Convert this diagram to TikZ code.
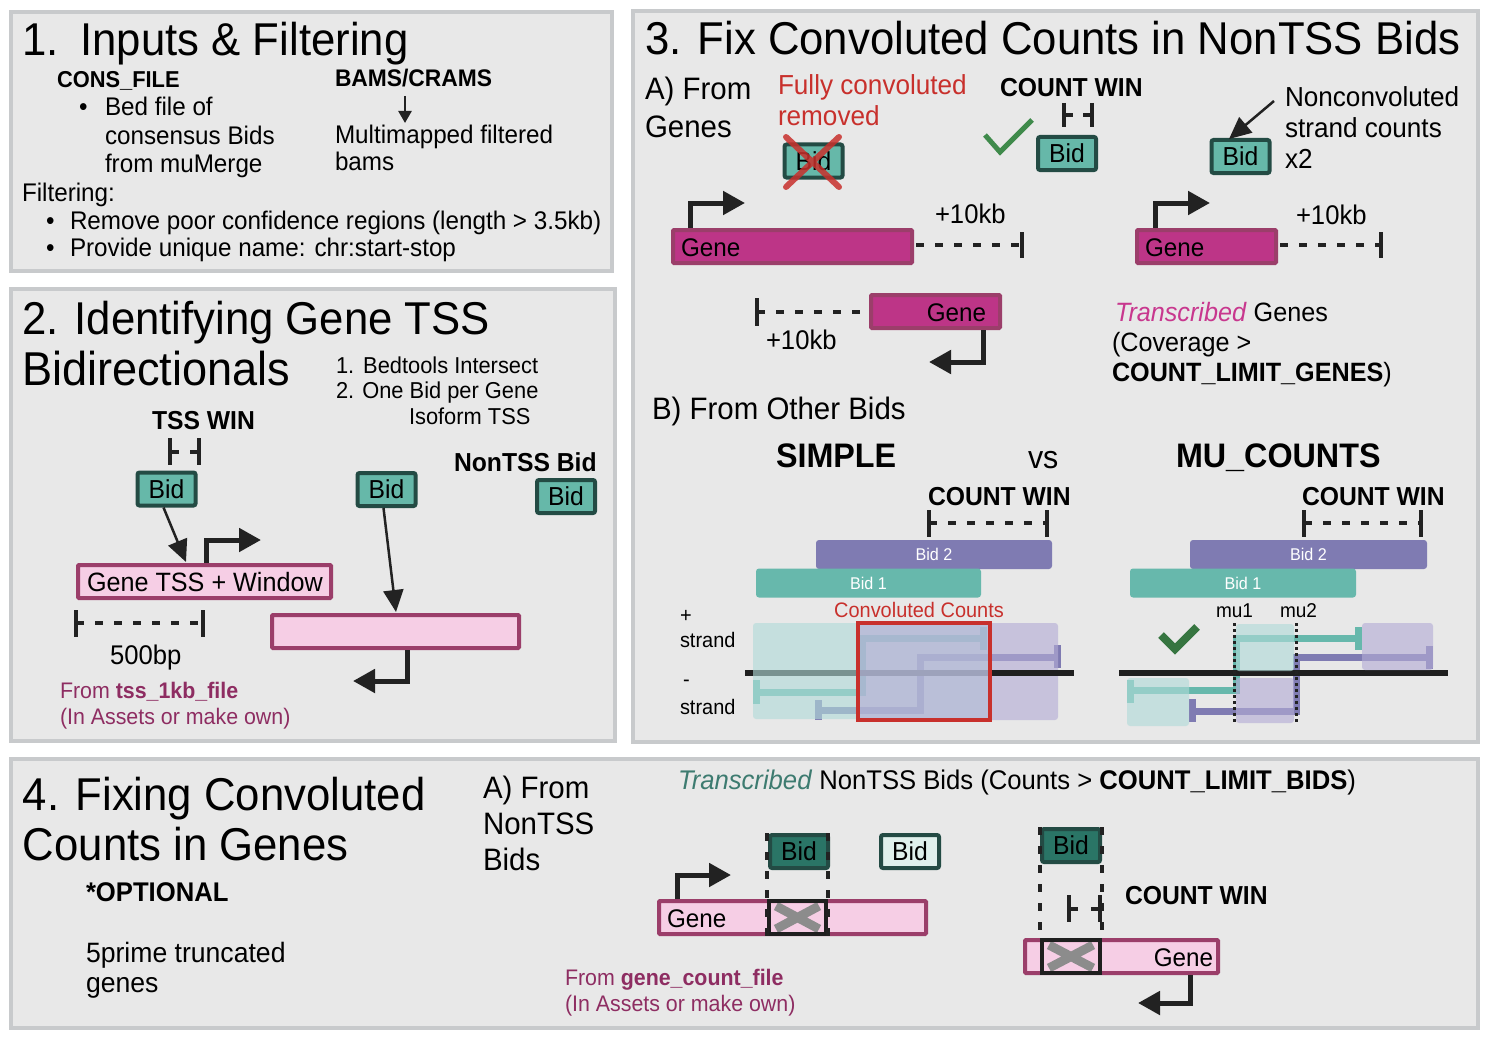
\documentclass[tikz,border=0pt]{standalone}
\usepackage{fontspec}
\setmainfont{Liberation Sans}[FakeStretch=0.95]
\usetikzlibrary{arrows.meta}
\definecolor{panelfill}{HTML}{E8E8E8}
\definecolor{panelline}{HTML}{C8CACC}
\definecolor{bidteal}{HTML}{66B8A9}
\definecolor{biddark}{HTML}{234B44}
\definecolor{bidfilldark}{HTML}{2A7566}
\definecolor{bidlight}{HTML}{DFF0EC}
\definecolor{genepink}{HTML}{F6CEE5}
\definecolor{geneline}{HTML}{9B3E6A}
\definecolor{genemag}{HTML}{BD3587}
\definecolor{bidpurple}{HTML}{7F7BB2}
\definecolor{bidone}{HTML}{67B8AC}
\definecolor{txtmag}{HTML}{8E2D62}
\definecolor{txtred}{HTML}{C8302C}
\definecolor{transmag}{HTML}{C8378E}
\definecolor{transteal}{HTML}{3D7B70}
\definecolor{checkgreen}{HTML}{3F8A4B}
\definecolor{arrowblack}{HTML}{222222}
\definecolor{regteal}{RGB}{177,219,216}
\definecolor{regpurple}{RGB}{180,172,213}
\definecolor{xgray}{HTML}{8C8C8C}
\newcommand\fsz[1]{\fontsize{#1}{#1}\selectfont}
\newcommand\winbr[4]{\draw[brk] (#1,#3)--(#1,#4) (#2,#3)--(#2,#4) (#1,{(#3+#4)/2})--({#1+9},{(#3+#4)/2}) ({#2-9},{(#3+#4)/2})--(#2,{(#3+#4)/2});}
\begin{document}
\begin{tikzpicture}[x=1pt,y=-1pt,
  txt/.style={anchor=base west, inner sep=0pt, outer sep=0pt, text=black},
  ttl/.style={txt, font=\fsz{46}},
  body/.style={txt, font=\fsz{25.5}},
  stp/.style={txt, font=\fsz{23}},
  subh/.style={txt, font=\fsz{31}},
  lblb/.style={txt, font=\bfseries\fsz{26}},
  lblsm/.style={txt, font=\bfseries\fsz{23}},
  bigb/.style={txt, font=\bfseries\fsz{34}},
  nt/.style={txt, font=\fsz{27.5}},
  nts/.style={txt, font=\fsz{26.5}},
  srcm/.style={txt, font=\fsz{22.5}, text=txtmag},
  panel/.style={draw=panelline, fill=panelfill, line width=4pt, anchor=north west, inner sep=0pt},
  bidbox/.style={draw=biddark, fill=bidteal, line width=4pt, rounded corners=2pt, inner sep=0pt, font=\fsz{26}, text=black, minimum width=58, minimum height=33},
  pinkbox/.style={draw=geneline, fill=genepink, line width=4pt, rounded corners=1pt, inner sep=0pt, minimum height=33},
  magbox/.style={draw=geneline, fill=genemag, line width=4pt, rounded corners=1pt, inner sep=0pt, minimum height=33},
  barbox/.style={rounded corners=3pt, inner sep=0pt, minimum height=29, text=white, font=\fsz{17}},
  tss/.style={draw=arrowblack, line width=5pt, -{Triangle[length=22pt,width=23pt]}},
  ptr/.style={draw=arrowblack, line width=2.5pt, -{Triangle[length=22pt,width=20pt]}},
  brk/.style={draw=arrowblack, line width=4pt},
  brkdash/.style={draw=arrowblack, line width=4pt, dash pattern=on 8pt off 11pt},
  vdash/.style={draw=arrowblack, line width=3.5pt, dash pattern=on 8pt off 11pt},
  dotv/.style={draw=arrowblack, line width=3pt, dash pattern=on 3pt off 3pt},
  tl/.style={draw=bidone, line width=7pt},
  pl/.style={draw=bidpurple, line width=7pt},
  rteal/.style={fill=regteal, fill opacity=0.62, rounded corners=3pt},
  rpurp/.style={fill=regpurple, fill opacity=0.62, rounded corners=3pt},
  axis/.style={draw=black!88, line width=6pt},
  grayx/.style={draw=xgray, line width=9pt},
  blkbox/.style={draw=black!88, line width=4pt}
]
\useasboundingbox (0,0) rectangle (1488,1038);
\fill[white] (0,0) rectangle (1488,1038);

% ---------- panels ----------
\node[panel, minimum width=601, minimum height=259] (p1) at (9,10) {};
\node[panel, minimum width=604, minimum height=452] (p2) at (9,287) {};
\node[panel, minimum width=845, minimum height=731] (p3) at (631,9) {};
\node[panel, minimum width=1467, minimum height=269] (p4) at (9,757) {};

% ---------- panel 1 ----------
\node[ttl] (t1) at (22,56) {1.\hspace{22pt}Inputs \& Filtering};
\node[lblsm] (cons) at (57,88) {CONS\_FILE};
\node[body] (cb) at (79,116) {•};
\node[body] (c1) at (105,116) {Bed file of};
\node[body] (c2) at (105,144) {consensus Bids};
\node[body] (c3) at (105,172) {from muMerge};
\node[txt, font=\bfseries\fsz{24}] (bams) at (335,87) {BAMS/CRAMS};
\coordinate (bamsA) at (405,96);
\coordinate (bamsB) at (405,123);
\draw[draw=arrowblack, line width=2.5pt, -{Triangle[length=12pt,width=13pt]}] (bamsA) -- (bamsB);
\node[body] (m1) at (335,143) {Multimapped filtered};
\node[body] (m2) at (335,171) {bams};
\node[body] (f0) at (22,201) {Filtering:};
\node[body] (fb1) at (46,229) {•};
\node[body] (f1) at (70,229) {Remove poor confidence regions (length > 3.5kb)};
\node[body] (fb2) at (46,256) {•};
\node[body] (f2) at (70,256) {Provide unique name: chr:start-stop};

% ---------- panel 2 ----------
\node[ttl] (t2a) at (22,334) {2. Identifying Gene TSS};
\node[ttl, font=\fsz{47.5}] (t2b) at (22,385) {Bidirectionals};
\node[stp] (s1) at (336,373) {1.\hspace{9pt}Bedtools Intersect};
\node[stp] (s2) at (336,398) {2. One Bid per Gene};
\node[stp] (s3) at (409,424) {Isoform TSS};
\node[lblb] (tsswin) at (152,429) {TSS WIN};
\winbr{170}{199}{438}{465}
\node[bidbox] (bidA) at (166.5,489) {Bid};
\node[bidbox] (bidB) at (386.5,489.5) {Bid};
\node[lblb] (nontss) at (454,471) {NonTSS Bid};
\node[bidbox] (bidC) at (566,496.5) {Bid};
\node[pinkbox, minimum width=253] (gtss) at (204.5,581.5) {};
\node[txt, font=\fsz{26.5}] (gtsst) at (87,591) {Gene TSS + Window};
\node[pinkbox, minimum width=247] (g2) at (395.5,631.5) {};
\coordinate (tipA) at (186,562);
\coordinate (tipB) at (396,612);
\draw[ptr] ([xshift=-3pt]bidA.south) -- (tipA);
\draw[ptr] ([xshift=-3pt]bidB.south) -- (tipB);
\draw[tss] (206,563) |- (261,540);
\draw[brkdash] (76,623) -- (203,623);
\draw[brk] (76,610) -- (76,637) (203,610) -- (203,637);
\node[txt, font=\fsz{27}] (bp) at (110,664) {500bp};
\draw[tss] (407,650) |- (353,681);
\node[srcm] (src1) at (60,698) {From \textbf{tss\_1kb\_file}};
\node[srcm] (src2) at (60,724) {(In Assets or make own)};

% ---------- panel 3 ----------
\node[ttl] (t3) at (645,55) {3. Fix Convoluted Counts in NonTSS Bids};
\node[subh] (a3a) at (645,100) {A) From};
\node[subh] (a3b) at (645,138) {Genes};
\node[nt, text=txtred] (fc1) at (778,95) {Fully convoluted};
\node[nt, text=txtred] (fc2) at (778,125) {removed};
\node[bidbox] (bidX) at (813.5,161) {Bid};
\draw[draw=txtred, draw opacity=0.85, line width=6pt, line cap=round] (786,137) -- (839,187) (839,137) -- (786,187);
\node[lblb] (cw1) at (1000,97) {COUNT WIN};
\winbr{1064}{1092}{103}{127}
\draw[draw=checkgreen, line width=5pt] (985,135) -- (1000,152) -- (1032,120);
\node[bidbox] (bidD) at (1067,153.5) {Bid};
\node[bidbox] (bidE) at (1240.5,156.5) {Bid};
\coordinate (ncs) at (1274,101);
\coordinate (nce) at (1229,139);
\draw[ptr] (ncs) -- (nce);
\node[nt] (nc1) at (1285,107) {Nonconvoluted};
\node[nt] (nc2) at (1285,138) {strand counts};
\node[nt] (nc3) at (1285,168) {x2};

\node[magbox, minimum width=239] (gm1) at (792.5,246.5) {};
\node[body] (gm1t) at (681,256) {Gene};
\draw[tss] (690,228) |- (745,203);
\draw[brkdash] (916,245) -- (1022,245);
\draw[brk] (1022,232) -- (1022,258);
\node[txt, font=\fsz{27}] (k1) at (935,223) {+10kb};

\node[magbox, minimum width=129] (gm2) at (935.5,311.5) {};
\node[body, anchor=base east] (gm2t) at (986,321) {Gene};
\draw[brk] (757,298) -- (757,326);
\draw[brkdash] (757,312) -- (867,312);
\node[txt, font=\fsz{27}] (k2) at (766,349) {+10kb};
\draw[tss] (983,330) |- (929,362);

\node[magbox, minimum width=139] (gm3) at (1206.5,246.5) {};
\node[body] (gm3t) at (1145,256) {Gene};
\draw[tss] (1155,228) |- (1210,203);
\draw[brkdash] (1280,245) -- (1381,245);
\draw[brk] (1381,232) -- (1381,258);
\node[txt, font=\fsz{27}] (k3) at (1296,224) {+10kb};

\node[nts] (tg1) at (1115,321) {\textcolor{transmag}{\textit{Transcribed}} Genes};
\node[nts] (tg2) at (1112,351) {(Coverage >};
\node[nts] (tg3) at (1112,381) {\textbf{COUNT\_LIMIT\_GENES})};

\node[subh] (b3) at (652,419) {B) From Other Bids};
\node[bigb] (simple) at (776,467) {SIMPLE};
\node[txt, font=\fsz{32}] (vs) at (1028,468) {vs};
\node[bigb] (mu) at (1176,467) {MU\_COUNTS};
\node[lblb] (cw2) at (928,505) {COUNT WIN};
\node[lblb] (cw3) at (1302,505) {COUNT WIN};
\draw[brkdash] (929,523) -- (1047,523);
\draw[brk] (929,510) -- (929,537) (1047,510) -- (1047,537);
\draw[brkdash] (1304,523) -- (1421,523);
\draw[brk] (1304,510) -- (1304,537) (1421,510) -- (1421,537);

\node[barbox, fill=bidpurple, minimum width=236] (sb2) at (934,554.5) {Bid 2};
\node[barbox, fill=bidone, minimum width=225] (sb1) at (868.5,583) {Bid 1};
\node[barbox, fill=bidpurple, minimum width=237] (mb2) at (1308.5,554.5) {Bid 2};
\node[barbox, fill=bidone, minimum width=226] (mb1) at (1243,583) {Bid 1};

\node[txt, anchor=base, font=\fsz{21}, text=txtred] (cc) at (919,617) {Convoluted Counts};
\node[txt, font=\fsz{21}] (ps) at (680,622) {+};
\node[txt, font=\fsz{21}] (ps2) at (680,647) {strand};
\node[txt, font=\fsz{21}] (ms) at (683,686) {-};
\node[txt, font=\fsz{21}] (ms2) at (680,714) {strand};

% SIMPLE schematic
\draw[tl] (756,680) -- (756,704);
\draw[tl] (756,692) -- (862,692) -- (862,638) -- (983,638);
\draw[tl] (983,627) -- (983,650);
\draw[pl] (818,700) -- (818,720);
\draw[pl] (818,710) -- (920,710) -- (920,657) -- (1057,657);
\draw[pl] (1057,645) -- (1057,668);
\draw[axis] (745,673) -- (1074,673);
\fill[rteal] (753,623) rectangle (990,719);
\fill[rpurp] (858,623) rectangle (1058,720);
\draw[axis] (992,673) -- (1074,673);
\draw[draw=txtred, line width=4pt] (858,623) rectangle (990,720);

% MU_COUNTS schematic
\draw[tl] (1130,680) -- (1130,703);
\draw[tl] (1130,690) -- (1236,690) -- (1236,638) -- (1358,638);
\draw[tl] (1358,627) -- (1358,650);
\draw[pl] (1192,699) -- (1192,722);
\draw[pl] (1192,711) -- (1296,711) -- (1296,657) -- (1429,657);
\draw[pl] (1429,646) -- (1429,669);
\draw[axis] (1119,673) -- (1448,673);
\fill[rteal] (1236,624) rectangle (1294,671);
\fill[rpurp] (1362,623) rectangle (1433,670);
\fill[rteal] (1127,678) rectangle (1189,726);
\fill[rpurp] (1236,678) rectangle (1294,723);
\draw[dotv] (1234,623) -- (1234,724);
\draw[dotv] (1296,623) -- (1296,724);
\node[txt, font=\fsz{20}] (mu1) at (1216,617) {mu1};
\node[txt, font=\fsz{20}] (mu2) at (1280,617) {mu2};
\draw[draw=checkgreen!85!black, line width=8pt] (1161,635) -- (1175,649) -- (1197,627);

% ---------- panel 4 ----------
\node[ttl] (t4a) at (23,810) {4. Fixing Convoluted};
\node[ttl] (t4b) at (23,860) {Counts in Genes};
\node[txt, font=\bfseries\fsz{27}] (opt) at (86,901) {*OPTIONAL};
\node[txt, font=\fsz{28}] (tr1) at (86,962) {5prime truncated};
\node[txt, font=\fsz{28}] (tr2) at (86,992) {genes};
\node[subh] (a4a) at (483,798) {A) From};
\node[subh] (a4b) at (483,834) {NonTSS};
\node[subh] (a4c) at (483,870) {Bids};
\node[txt, font=\fsz{27}] (tb) at (678,789) {\textcolor{transteal}{\textit{Transcribed}} NonTSS Bids (Counts > \textbf{COUNT\_LIMIT\_BIDS})};

\node[pinkbox, minimum width=267] (gp1) at (792.5,917.5) {};
\node[body] (gp1t) at (667,927) {Gene};
\draw[tss] (677,899) |- (731,875);
\node[bidbox, fill=bidfilldark] (bidF) at (799,851.5) {Bid};
\node[bidbox, fill=bidlight] (bidG) at (910,851.5) {Bid};
\draw[grayx] (776,906) -- (819,929) (819,906) -- (776,929);
\draw[blkbox] (769,901) rectangle (826,934);
\draw[vdash] (767,833) -- (767,944);
\draw[vdash] (828,833) -- (828,944);

\node[pinkbox, minimum width=193] (gp2) at (1121.5,956.5) {};
\node[body, anchor=base east] (gp2t) at (1213,966) {Gene};
\node[bidbox, fill=bidfilldark] (bidH) at (1071,845.5) {Bid};
\draw[grayx] (1049,945) -- (1093,968) (1093,945) -- (1049,968);
\draw[blkbox] (1042,940) rectangle (1100,973);
\draw[vdash] (1040,827) -- (1040,938);
\draw[vdash] (1102,827) -- (1102,938);
\winbr{1069}{1100}{895}{922}
\node[lblb] (cw4) at (1125,904) {COUNT WIN};
\draw[tss] (1190,975) |- (1138,1003);
\node[srcm] (src3) at (565,985) {From \textbf{gene\_count\_file}};
\node[srcm] (src4) at (565,1011) {(In Assets or make own)};
\end{tikzpicture}
\end{document}
